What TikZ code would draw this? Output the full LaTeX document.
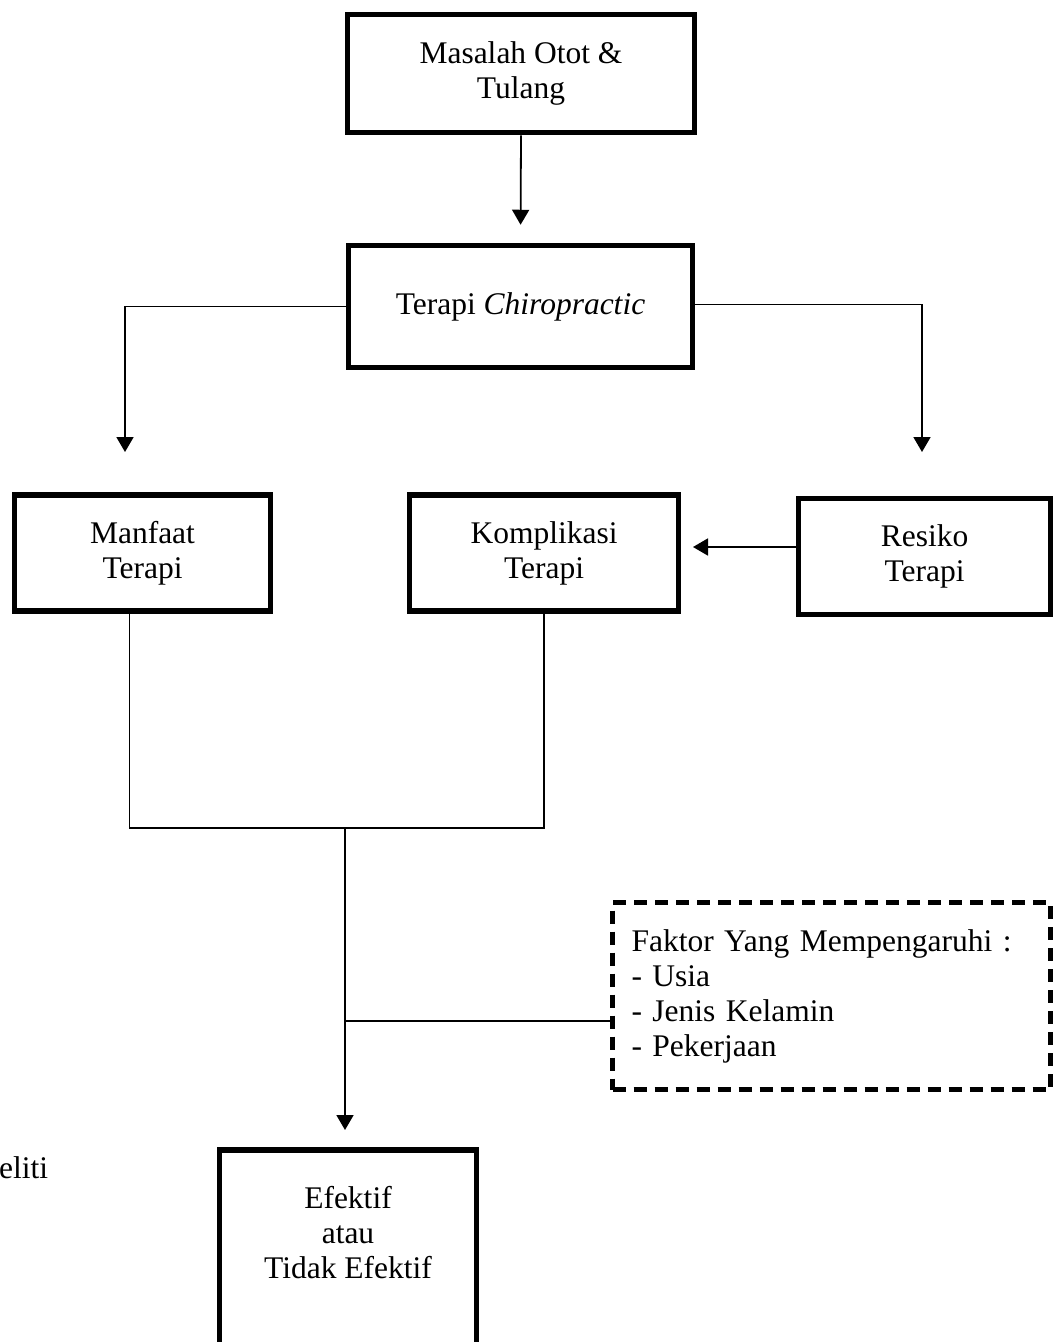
\documentclass[tikz,border=0pt]{standalone}
\usepackage{fontspec}
\setmainfont{Liberation Serif}
\usepackage{tikz}
\usetikzlibrary{
  positioning,
  calc,
  arrows.meta
}

\begin{document}
\begin{tikzpicture}[x=1pt,y=1pt,
  kotak/.style={draw,line width=5.5pt,align=center,
    font=\fontsize{31.5}{35}\selectfont},
  titik/.style={draw,line width=5pt,dash pattern=on 13pt off 8pt,
    font=\fontsize{31.5}{35}\selectfont},
  garis/.style={line width=1.8pt},
  panah/.style={garis,-{Triangle[width=17pt,length=15pt]}}
  ]
  % 範囲
  \useasboundingbox (0,0) rectangle (1055,-1342);
  \clip (0,0) rectangle (1055,-1342);

  % 箱の定義
  \node[kotak,minimum width=347pt,minimum height=118pt] (masalah) at (521,-73.5)
    {Masalah Otot \&\\Tulang};
  \node[kotak,minimum width=344pt,minimum height=122pt] (terapi) at (520.5,-306.5)
    {Terapi \textit{Chiropractic}};
  \node[kotak,minimum width=256pt,minimum height=116pt] (manfaat) at (142.5,-553)
    {Manfaat\\Terapi};
  \node[kotak,minimum width=269pt,minimum height=116pt] (komplikasi) at (544,-553)
    {Komplikasi\\Terapi};
  \node[kotak,minimum width=252pt,minimum height=116pt] (resiko) at (924.5,-556.5)
    {Resiko\\Terapi};
  \node[titik,minimum width=438pt,minimum height=187pt,text width=400pt,align=left]
    (faktor) at (831.5,-996)
    {Faktor Yang Mempengaruhi :\\- Usia\\- Jenis Kelamin\\- Pekerjaan};
  \node[kotak,minimum width=257pt,anchor=north,inner ysep=37pt,text depth=100pt]
    (efektif) at (348,-1147) {Efektif\\atau\\Tidak Efektif};
  \node[anchor=base west,font=\fontsize{31.5}{35}\selectfont,inner sep=0pt]
    (diteliti) at (-1,-1178) {eliti};

  % 補助点
  \coordinate (kiri) at (125,-452);
  \coordinate (kanan) at (922,-452);
  \coordinate (panahR) at (693,-547);
  \coordinate (gabung) at (345,-828);
  \coordinate (cabang) at (345,-1021);

  % 矢印を引く
  \draw[panah,shorten >=18pt] (masalah.south) -- (terapi.north);
  \draw[panah] (terapi.west) -| (kiri);
  \draw[panah] ([yshift=2pt]terapi.east) -| (kanan);
  \draw[panah] (resiko.west |- panahR) -- (panahR);
  \draw[garis] ([xshift=-13pt]manfaat.south) |- (gabung) -| (komplikasi.south);
  \draw[panah,shorten >=17pt] (gabung) -- (gabung |- efektif.north);
  \draw[garis] (cabang) -- (cabang -| faktor.west);
\end{tikzpicture}
\end{document}
